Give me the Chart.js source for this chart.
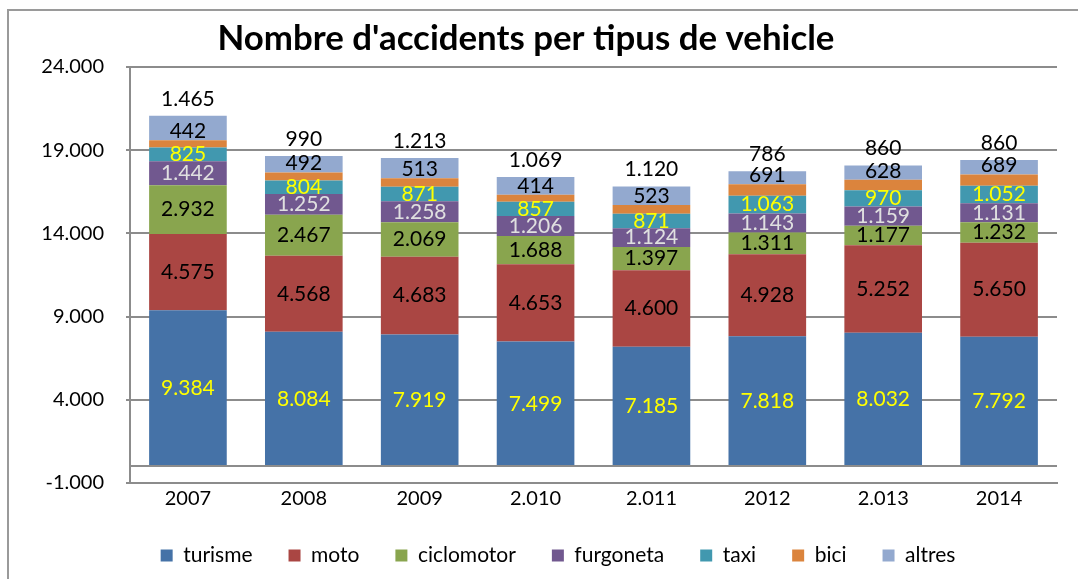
<!DOCTYPE html>
<html><head><meta charset="utf-8">
<script src="https://cdn.jsdelivr.net/npm/chart.js@4/dist/chart.umd.min.js"></script>
<style>html,body{margin:0;padding:0;background:#fff;overflow:hidden}</style>
</head><body>
<canvas id="c" width="1078" height="579"></canvas>
<script>
// ---- data ----
const categories = ['2007','2008','2009','2.010','2.011','2012','2.013','2014'];
const turisme    = [9384,8084,7919,7499,7185,7818,8032,7792];
const moto       = [4575,4568,4683,4653,4600,4928,5252,5650];
const ciclomotor = [2932,2467,2069,1688,1397,1311,1177,1232];
const furgoneta  = [1442,1252,1258,1206,1124,1143,1159,1131];
const taxi       = [825,804,871,857,871,1063,970,1052];
const bici       = [442,492,513,414,523,691,628,689];
const altres     = [1465,990,1213,1069,1120,786,860,860];
const seriesNames = ['turisme','moto','ciclomotor','furgoneta','taxi','bici','altres'];
const yMin = -1000, yMax = 24000, yStep = 5000;
const chartTitle = "Nombre d'accidents per tipus de vehicle";

// ---- styles ----
const seriesColors = ['#4572A7','#AA4643','#89A54E','#71588F','#4198AF','#DB843D','#93A9CF'];
const labelColors  = ['#FFFF00','#000000','#000000','#E0E0E0','#FFFF00','#000000','#000000'];
const FONT = 'Lato';
const GRID = '#8c8c8c';

function fmt(v){ return String(v).replace(/\B(?=(\d{3})+(?!\d))/g,'.'); }

const seriesData = [turisme,moto,ciclomotor,furgoneta,taxi,bici,altres];

const decorPlugin = {
  id:'decor',
  afterLayout(chart){
    // centre the legend row like the reference
    if (chart.legend) { chart.legend.left = 59; }
  },
  beforeDraw(chart){
    const ctx = chart.ctx;
    ctx.save();
    ctx.fillStyle = '#fff';
    ctx.fillRect(0,0,chart.width,chart.height);
    ctx.strokeStyle = '#9a9a9a';
    ctx.lineWidth = 2;
    ctx.beginPath();
    ctx.moveTo(8, chart.height); ctx.lineTo(8, 10); ctx.lineTo(chart.width, 10);
    ctx.stroke();
    // title
    ctx.fillStyle = '#000';
    let size = 32;
    ctx.font = 'bold ' + size + 'px ' + FONT;
    const w = ctx.measureText(chartTitle).width;
    size = size * 617 / w;
    ctx.font = 'bold ' + size.toFixed(2) + 'px ' + FONT;
    ctx.textAlign = 'center';
    ctx.textBaseline = 'alphabetic';
    ctx.fillText(chartTitle, 526, 50);
    ctx.restore();
  },
  afterDatasetsDraw(chart){
    const ctx = chart.ctx;
    const ys = chart.scales.y, area = chart.chartArea;
    ctx.save();
    // zero line (category axis crossing)
    const y0 = Math.round(ys.getPixelForValue(0));
    ctx.strokeStyle = GRID; ctx.lineWidth = 2;
    ctx.beginPath(); ctx.moveTo(area.left, y0); ctx.lineTo(area.right, y0); ctx.stroke();
    // data labels
    ctx.font = '21px ' + FONT;
    ctx.textAlign = 'center';
    ctx.textBaseline = 'middle';
    chart.data.datasets.forEach((ds,i)=>{
      const meta = chart.getDatasetMeta(i);
      meta.data.forEach((el,j)=>{
        let y;
        if (i === 5) y = el.y - 9;
        else if (i === 6) y = el.y - 17;
        else y = (el.y + el.base)/2;
        ctx.fillStyle = labelColors[i];
        ctx.fillText(fmt(ds.data[j]), el.x, y);
      });
    });
    ctx.restore();
  }
};

new Chart(document.getElementById('c'), {
  type:'bar',
  data:{
    labels: categories,
    datasets: seriesNames.map((n,i)=>({
      label:n, data:seriesData[i], backgroundColor:seriesColors[i],
      borderWidth:0, categoryPercentage:1, barPercentage:0.67
    }))
  },
  options:{
    responsive:false, animation:false, devicePixelRatio:1,
    layout:{padding:{left:8,right:21,top:67,bottom:3}},
    plugins:{
      title:{display:false}, tooltip:{enabled:false},
      legend:{position:'bottom', labels:{boxWidth:12, boxHeight:12, padding:36, color:'#000', font:{family:FONT,size:21}}}
    },
    scales:{
      x:{stacked:true, grid:{display:false, drawTicks:false}, border:{display:true,color:GRID,width:2},
         ticks:{color:'#000', font:{family:FONT,size:20}, padding:4, maxRotation:0},
         afterFit(s){ s.height = 26; }},
      y:{stacked:true, min:yMin, max:yMax,
         ticks:{stepSize:yStep, color:'#000', font:{family:FONT,size:20}, padding:22, callback:v=>fmt(v)},
         grid:{color:GRID, lineWidth:2, tickLength:4},
         border:{color:GRID, width:2},
         afterFit(s){ s.width = 122; }}
    }
  },
  plugins:[decorPlugin]
});
</script>
</body></html>
